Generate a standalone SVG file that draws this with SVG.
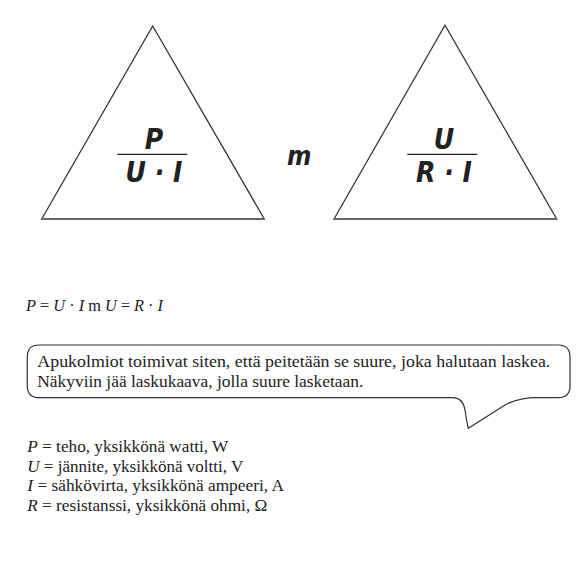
<svg xmlns="http://www.w3.org/2000/svg" width="583" height="581" viewBox="0 0 583 581">
<style>
.tri{fill:none;stroke:#333;stroke-width:1.3;stroke-linejoin:miter}
.base{stroke:#666;stroke-width:1.8}
.bar{stroke:#222;stroke-width:1.2}
.frac{font-family:"DejaVu Sans",sans-serif;font-stretch:condensed;font-style:italic;font-weight:bold;font-size:28px;fill:#222;text-anchor:middle}
.m{font-family:"DejaVu Sans",sans-serif;font-stretch:condensed;font-style:italic;font-weight:bold;font-size:26px;fill:#222}
.body{font-family:"Liberation Serif",serif;font-size:17px;fill:#222}
.leg{font-size:16px}
.it{font-style:italic}
.bubble{fill:#fff;stroke:#333;stroke-width:1.2}
</style>
<rect width="583" height="581" fill="#fff"/>
<g id="triangle-power">
<polygon class="tri" points="152.7,26 41.7,219 264.3,219"/>
<line class="base" x1="41.7" y1="219" x2="264.3" y2="219"/>
<text class="frac" x="154" y="149">P</text>
<line class="bar" x1="117.3" y1="154.3" x2="187.3" y2="154.3"/>
<text class="frac" x="154" y="182">U · I</text>
</g>
<g id="separator">
<text class="m" x="287" y="165">m</text>
</g>
<g id="triangle-voltage">
<polygon class="tri" points="445,25.3 334,219 556.7,219"/>
<line class="base" x1="334" y1="219" x2="556.7" y2="219"/>
<text class="frac" x="444" y="149">U</text>
<line class="bar" x1="407.3" y1="154.3" x2="477.3" y2="154.3"/>
<text class="frac" x="444" y="182">R · I</text>
</g>
<g id="formula">
<text class="body leg" x="26" y="311" textLength="137" lengthAdjust="spacingAndGlyphs"><tspan class="it">P</tspan> = <tspan class="it">U</tspan> · <tspan class="it">I</tspan> m <tspan class="it">U</tspan> = <tspan class="it">R</tspan> · <tspan class="it">I</tspan></text>
</g>
<g id="bubble">
<path class="bubble" d="M39,345 H558 Q570,345 570,357 V386 Q570,397.7 558,397.7 H540 Q520,397 505,405 L468.3,428.3 Q466,418 465,410 Q463,398 453,397.7 H39 Q27.3,397.7 27.3,386 V357 Q27.3,345 39,345 Z"/>
<text class="body" x="37.3" y="367" textLength="513" lengthAdjust="spacingAndGlyphs">Apukolmiot toimivat siten, että peitetään se suure, joka halutaan laskea.</text>
<text class="body" x="37.3" y="387" textLength="326" lengthAdjust="spacingAndGlyphs">Näkyviin jää laskukaava, jolla suure lasketaan.</text>
</g>
<g id="legend">
<text class="body leg" x="27.3" y="452" textLength="201" lengthAdjust="spacingAndGlyphs"><tspan class="it">P</tspan> = teho, yksikkönä watti, W</text>
<text class="body leg" x="27.3" y="471.5" textLength="216" lengthAdjust="spacingAndGlyphs"><tspan class="it">U</tspan> = jännite, yksikkönä voltti, V</text>
<text class="body leg" x="27.3" y="491" textLength="256.7" lengthAdjust="spacingAndGlyphs"><tspan class="it">I</tspan> = sähkövirta, yksikkönä ampeeri, A</text>
<text class="body leg" x="27.3" y="510.5" textLength="240" lengthAdjust="spacingAndGlyphs"><tspan class="it">R</tspan> = resistanssi, yksikkönä ohmi, Ω</text>
</g>
</svg>
